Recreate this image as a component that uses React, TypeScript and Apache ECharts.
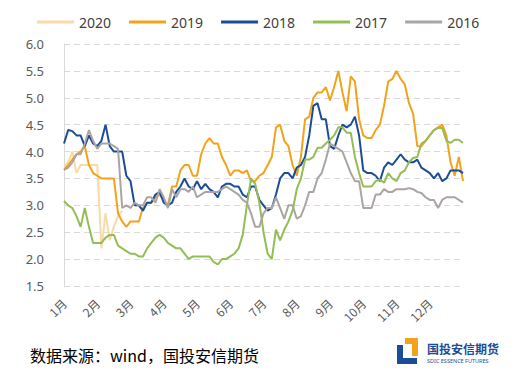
import React, { useEffect, useRef } from "react";
import * as echarts from "echarts";

const months = ["1月", "2月", "3月", "4月", "5月", "6月", "7月", "8月", "9月", "10月", "11月", "12月"];
const seriesNames = ["2020", "2019", "2018", "2017", "2016"];

const y2020 = [3.72, 3.8, 4.0, 3.6, 3.75, 3.75, 3.75, 3.75, 3.75, 2.2, 2.85, 2.35, 2.6, 2.8, 2.9];

const y2019 = [
  3.66, 3.75, 3.85, 3.95, 4.0, 4.1, 3.75, 3.6, 3.55, 3.5, 3.5, 3.5, 3.5, 2.85, 2.7, 2.6,
  2.7, 2.7, 2.7, 2.95, 3.05, 3.05, 3.15, 3.2, 3.1, 3.0, 3.35, 3.35, 3.65, 3.75, 3.75, 3.55,
  3.55, 3.95, 4.15, 4.25, 4.15, 4.15, 3.9, 3.75, 3.55, 3.65, 3.65, 3.6, 3.65, 3.45, 3.45, 3.55,
  3.6, 3.75, 3.9, 4.45, 4.5, 4.2, 4.1, 3.75, 3.55, 3.9, 4.6, 4.65, 5.0, 5.1, 5.1, 5.2,
  4.95, 5.2, 5.5, 5.1, 4.75, 5.4, 5.3, 4.6, 4.3, 4.25, 4.25, 4.4, 4.5, 4.85, 5.3, 5.35,
  5.5, 5.35, 5.25, 4.9, 4.7, 4.1, 4.1, 4.2, 4.3, 4.4, 4.45, 4.5, 4.3, 3.8, 3.55, 3.9, 3.45,
];

const y2018 = [
  4.15, 4.4, 4.38, 4.3, 4.3, 4.1, 4.3, 4.15, 4.1, 4.2, 4.5, 4.1, 4.0, 4.0, 4.0, 3.55,
  3.45, 3.0, 3.0, 2.9, 3.05, 3.05, 3.2, 3.25, 3.05, 3.0, 3.05, 3.25, 3.35, 3.5, 3.35, 3.3,
  3.45, 3.3, 3.4, 3.3, 3.25, 3.15, 3.35, 3.4, 3.4, 3.35, 3.35, 3.2, 3.15, 3.35, 3.35, 3.1,
  3.0, 2.9, 2.95, 3.2, 3.5, 3.6, 3.6, 3.5, 3.7, 3.75, 3.9, 4.3, 4.85, 4.9, 4.6, 4.6,
  4.1, 4.05, 4.3, 4.5, 4.45, 4.5, 4.65, 4.3, 3.65, 3.6, 3.6, 3.55, 3.45, 3.7, 3.8, 3.75,
  3.85, 3.95, 3.85, 3.8, 3.8, 3.85, 3.7, 3.65, 3.6, 3.5, 3.6, 3.45, 3.5, 3.65, 3.65, 3.65, 3.6,
];

const y2017 = [
  3.08, 3.0, 2.95, 2.8, 2.6, 2.95, 2.6, 2.3, 2.3, 2.3, 2.4, 2.45, 2.45, 2.25, 2.2, 2.15,
  2.1, 2.1, 2.05, 2.05, 2.2, 2.3, 2.4, 2.45, 2.4, 2.3, 2.25, 2.2, 2.2, 2.1, 2.0, 2.05,
  2.05, 2.05, 2.05, 2.05, 1.95, 1.9, 2.0, 2.0, 2.05, 2.1, 2.2, 2.45, 3.0, 3.5, 3.4, 3.05,
  2.5, 2.1, 2.0, 2.55, 2.35, 2.55, 2.7, 2.9, 3.3, 3.5, 3.85, 3.85, 3.9, 4.07, 4.07, 4.15,
  4.22, 4.3, 4.45, 4.45, 4.35, 4.35, 3.9, 3.6, 3.35, 3.35, 3.35, 3.45, 3.48, 3.42, 3.6, 3.5,
  3.45, 3.6, 3.65, 3.8, 3.88, 3.9, 4.15, 4.2, 4.3, 4.4, 4.44, 4.44, 4.2, 4.16, 4.22, 4.22, 4.16,
];

const y2016 = [
  3.66, 3.7, 3.8, 3.95, 3.95, 4.15, 4.4, 4.2, 4.05, 4.15, 4.15, 4.15, 4.1, 4.05, 2.95, 3.0,
  2.95, 3.05, 3.0, 3.0, 3.15, 3.15, 3.05, 3.3, 3.15, 2.95, 3.3, 3.15, 3.3, 3.3, 3.25, 3.35,
  3.15, 3.2, 3.25, 3.25, 3.25, 3.25, 3.3, 3.35, 3.3, 3.25, 3.2, 3.1, 3.05, 2.85, 2.6, 2.6,
  2.85, 2.95, 2.95, 3.15, 2.95, 2.75, 3.0, 3.0, 2.75, 2.8, 3.0, 3.25, 3.25, 3.5, 3.6, 3.85,
  4.15, 4.1, 4.05, 4.0, 3.8, 3.6, 3.45, 3.45, 2.95, 2.95, 2.95, 3.2, 3.2, 3.3, 3.25, 3.25,
  3.3, 3.3, 3.3, 3.32, 3.3, 3.25, 3.23, 3.15, 3.1, 3.1, 2.95, 3.1, 3.15, 3.15, 3.15, 3.1, 3.05,
];

const colors = ["#F9D9A8", "#F2A31B", "#1A4C97", "#93BD55", "#ABA4A4"];
const yTicks = { min: 1.5, max: 6, interval: 0.5 };
const pointsPerMonth = 8;
const footerText = "数据来源：wind，国投安信期货";
const logoText = "国投安信期货";
const logoSub = "SDIC ESSENCE FUTURES";

export default function App() {
  const ref = useRef<HTMLDivElement>(null);
  useEffect(() => {
    document.body.style.margin = "0";
    if (!ref.current) return;
    const chart = echarts.init(ref.current, null, { renderer: "svg" });
    const total = months.length * pointsPerMonth + 1;
    const cats = Array.from({ length: total }, (_, i) => String(i));
    const all = [y2020, y2019, y2018, y2017, y2016];
    chart.setOption({
      animation: false,
      backgroundColor: "#ffffff",
      color: colors,
      legend: {
        top: 10,
        left: 32,
        icon: "rect",
        itemWidth: 37,
        itemHeight: 3,
        itemGap: 18,
        textStyle: { fontFamily: "Noto Sans", fontSize: 14, color: "#404040" },
        data: seriesNames,
      },
      grid: { left: 64, right: 52, top: 44, bottom: 105 },
      xAxis: {
        type: "category",
        boundaryGap: false,
        data: cats,
        axisLine: { show: false },
        axisTick: { show: false },
        axisLabel: {
          interval: (idx: number) => idx % pointsPerMonth === 0 && idx < total - 1,
          formatter: (_v: string, idx: number) => months[Math.floor(idx / pointsPerMonth)] ?? "",
          rotate: 45,
          margin: 15,
          fontFamily: "Noto Sans CJK SC",
          fontSize: 12,
          color: "#595959",
        },
        splitLine: { show: false },
      },
      yAxis: {
        type: "value",
        min: yTicks.min,
        max: yTicks.max,
        interval: yTicks.interval,
        axisLine: { show: true, lineStyle: { color: "#d9d9d9", width: 1 } },
        axisTick: { show: false },
        axisLabel: {
          formatter: (v: number) => v.toFixed(1),
          fontFamily: "Noto Sans",
          fontSize: 13,
          color: "#595959",
          margin: 20,
        },
        splitLine: { show: true, lineStyle: { color: "#d9d9d9", type: [6, 4], width: 1 } },
      },
      series: seriesNames.map((name, k) => ({
        name,
        type: "line",
        data: all[k],
        symbol: "none",
        lineStyle: { width: 2, color: colors[k] },
        z: 2 + k,
      })),
      graphic: [
        {
          type: "text",
          left: 30,
          top: 347,
          style: { text: footerText, font: "16px 'Noto Sans CJK SC'", fill: "#000000" },
        },
        {
          type: "polygon",
          shape: { points: [[397, 345], [403, 345], [403, 358], [417, 358], [417, 364], [397, 364]] },
          style: { fill: "#1A4C97" },
        },
        {
          type: "polygon",
          shape: { points: [[405, 338], [418, 338], [418, 356], [412, 356], [412, 344], [405, 344]] },
          style: { fill: "#F2A31B" },
        },
        {
          type: "text",
          left: 427,
          top: 342,
          style: { text: logoText, font: "bold 12px 'Noto Sans CJK SC'", fill: "#1A4C97" },
        },
        {
          type: "text",
          left: 427,
          top: 358,
          style: { text: logoSub, font: "5.5px 'Noto Sans'", fill: "#1A4C97" },
        },
      ],
    });
    return () => chart.dispose();
  }, []);
  return <div ref={ref} style={{ width: 515, height: 391 }} />;
}
